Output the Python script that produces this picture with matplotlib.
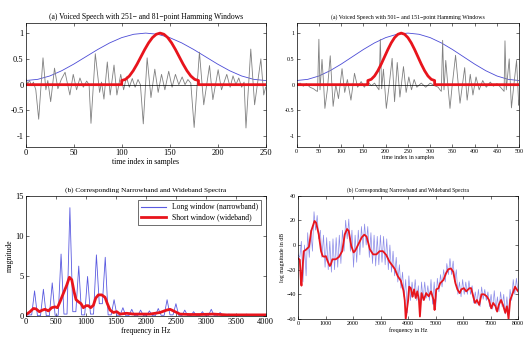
import numpy as np
import matplotlib
matplotlib.use("Agg")
import matplotlib.pyplot as plt

plt.rcParams['font.family'] = ['Liberation Serif', 'DejaVu Serif']

# Hamming window shape read at 21 evenly spaced points across its length
hamm = [0.08, 0.103, 0.168, 0.270, 0.398, 0.540, 0.682, 0.810, 0.912, 0.977, 1.0,
        0.977, 0.912, 0.810, 0.682, 0.540, 0.398, 0.270, 0.168, 0.103, 0.08]

# (first sample, last sample) of each window
win_long_a = (0, 250)
win_short_a = (100, 180)
win_long_b = (0, 500)
win_short_b = (160, 310)

# voiced speech, 8 kHz (sample index, value)
wave_a_t = [0, 2, 4, 6, 8, 10.5, 13.5, 18, 21, 23, 26, 30, 33.5, 37, 41, 46, 49.5, 53, 56.5, 60,
            63.5, 66, 68, 72.5, 77, 79, 81.5, 85, 88, 92, 95, 99, 102, 105, 108, 111, 114, 117,
            119.5, 122.5, 126.5, 130.5, 134.5, 138, 141.5, 145, 149, 152.5, 156, 159.5, 163, 166,
            169, 172, 175.5, 181, 185.5, 191.5, 195, 200.5, 204, 209.5, 213, 216, 219, 222, 225,
            227.5, 229.5, 234.5, 238.5, 245, 248, 250]
wave_a_v = [0.12, 0.02, 0.08, -0.02, 0.05, -0.1, -0.67, 0.52, -0.1, 0.08, -0.33, 0.32, -0.08, 0.1,
            0.24, -0.2, 0.2, -0.1, 0.13, -0.05, 0.07, 0.0, -0.75, 0.6, -0.15, 0.05, -0.28, 0.44,
            -0.2, 0.38, -0.2, 0.2, -0.1, 0.15, -0.05, 0.12, -0.05, 0.1, 0.0, -0.76, 0.52, -0.25,
            0.3, -0.15, 0.2, -0.1, 0.26, -0.05, 0.2, 0.0, 0.15, 0.0, 0.1, 0.03, -0.83, 0.63, -0.39,
            0.37, -0.29, 0.29, -0.1, 0.2, -0.05, 0.17, 0.0, 0.13, -0.05, 0.05, -0.84, 0.69, -0.39,
            0.5, -0.2, -0.05]

# voiced speech, 16 kHz
wave_b_t = [0, 8, 15, 22, 30, 38, 44, 47, 50, 52.5, 57, 60, 63.5, 69, 75.5, 82, 88, 94, 102, 108,
            114, 122, 130, 137, 145, 152, 160, 168, 175, 181, 185, 188, 191, 195, 201.5, 208, 214.5,
            220, 226, 232, 240, 246, 252, 258, 264, 270, 280, 290, 300, 310, 318, 322, 325, 328,
            331, 335, 339, 344.5, 349, 357, 367, 377.5, 383, 390, 396, 403, 410, 418, 426, 435,
            442, 450, 458, 463, 466, 468, 471, 477.5, 482.5, 488, 494, 499, 500]
wave_b_v = [0.0, 0.03, -0.03, 0.02, -0.05, -0.08, -0.12, -0.13, 0.88, -0.1, 0.49, 0.1, -0.46, -0.1,
            0.56, -0.42, 0.0, -0.27, 0.31, -0.15, 0.1, -0.3, 0.22, -0.05, 0.06, -0.05, 0.05, -0.02,
            0.03, -0.05, -0.1, 0.88, -0.08, 0.3, -0.46, 0.0, 0.51, -0.33, 0.43, -0.24, 0.35, -0.15,
            0.15, -0.1, 0.1, -0.05, 0.03, -0.05, 0.03, -0.02, -0.05, -0.1, -0.13, 0.86, -0.1, 0.47,
            0.05, -0.46, -0.05, 0.57, -0.36, 0.33, -0.3, 0.2, -0.2, 0.15, -0.1, 0.08, -0.05, 0.05,
            -0.03, 0.02, -0.05, -0.1, -0.13, 0.85, -0.1, 0.5, -0.45, 0.0, 0.47, -0.4, -0.3]

# narrowband spectrum (a): harmonic peaks of f0_a and floor between them
f0_a = 147.3
nb_peak_a = [3.1, 3.3, 4.1, 7.7, 13.5, 6.2, 4.9, 7.6, 7.3, 2.0, 1.0, 0.8, 0.7, 0.6, 0.9, 2.0, 1.5,
             0.7, 0.5, 0.5, 0.8, 0.4, 0.2, 0.15, 0.2, 0.1]
nb_floor_a = [0.1, 0.0, 0.0, 0.05, 0.2, 0.5, 0.1, 0.2, 1.5, 0.1, 0.05, 0.0, 0.0, 0.0, 0.0, 0.05,
              0.1, 0.0, 0.0, 0.0, 0.0, 0.0, 0.0, 0.0, 0.0, 0.0, 0.0]
lobe_half = 48

# wideband spectrum (a)
wb_a_f = [0, 72, 128, 172, 228, 278, 322, 378, 433, 489, 528, 572, 628, 683, 728, 767, 806, 839,
          878, 922, 961, 1006, 1044, 1083, 1128, 1167, 1211, 1267, 1322, 1361, 1406, 1461, 1517,
          1572, 1683, 1794, 2072, 2239, 2350, 2406, 2489, 2572, 2739, 2906, 3128, 3350, 4000]
wb_a_v = [0.1, 0.5, 0.9, 0.85, 0.5, 0.7, 0.8, 0.6, 1.0, 1.1, 1.0, 1.75, 2.8, 3.8, 4.8, 4.5, 3.0,
          2.0, 1.75, 1.5, 1.0, 1.25, 1.25, 1.0, 1.3, 2.2, 2.6, 2.6, 2.3, 1.5, 0.7, 0.4, 0.5, 0.2,
          0.3, 0.2, 0.2, 0.4, 0.7, 0.8, 0.5, 0.2, 0.15, 0.15, 0.2, 0.1, 0.1]

# narrowband log spectrum (b): harmonic peaks and troughs in dB
f0_b = 115
nb_start_b = -8
nb_peak_b = [3, 0, 10, 12, 27, 24, 12, 8, 6, 3,
             5, 6, 8, 12, 20, 21, 12, 8, 12, 15,
             17, 15, 10, 8, 7, 8, 7, 5, 0, -5,
             -10, -16, -22, -28, -25, -30, -28, -33, -30, -30,
             -33, -28, -30, -27, -24, -20, -15, -11, -13, -20,
             -30, -28, -30, -29, -33, -38, -36, -34, -36, -38,
             -40, -37, -42, -38, -40, -42, -36, -28, -27]
nb_trough_b = [-10, -30, -25, -10, -5, 12, 5, -10, -18, -20,
               -22, -20, -18, -15, -5, 5, -5, -18, -14, -8,
               -2, 0, -10, -15, -17, -16, -14, -16, -20, -22,
               -25, -30, -35, -42, -55, -45, -42, -45, -55, -45,
               -43, -45, -48, -50, -38, -34, -30, -24, -24, -30,
               -40, -42, -40, -40, -40, -47, -48, -50, -44, -45,
               -50, -52, -53, -54, -50, -56, -58, -45, -40, -38]

# wideband log spectrum (b)
wb_b_f = [0, 59, 95, 119, 154, 202, 273, 391, 474, 593, 652, 747, 830, 889, 948, 1007, 1067, 1150,
          1185, 1244, 1363, 1481, 1600, 1694, 1778, 1837, 1931, 2014, 2074, 2192, 2311, 2405, 2488,
          2607, 2725, 2844, 2962, 3081, 3199, 3318, 3436, 3519, 3614, 3733, 3828, 3875, 3910, 4000,
          4036, 4095, 4154, 4214, 4273, 4332, 4391, 4427, 4486, 4569, 4652, 4747, 4830, 4924, 4960,
          5020, 5102, 5162, 5280, 5375, 5458, 5553, 5635, 5718, 5790, 5873, 5932, 6026, 6110, 6228,
          6288, 6346, 6430, 6500, 6583, 6666, 6760, 6855, 6938, 7021, 7092, 7176, 7235, 7294, 7377,
          7448, 7531, 7590, 7650, 7709, 7804, 7887, 7946, 8000]
wb_b_db = [-10.8, -12, -28, -33, -20, -5, -4, -1.5, 11.4, 19.5, 18, 8.6, -4.9, -9, -9.5, -9, -13,
           -17, -15.7, -11.6, -11.6, -9.7, -5, 8.6, 13, 11.4, -0.8, -6, -4.6, 0.8, 6.2, 8.4, 6.8,
           -3.5, -7.6, -7.6, -5, -5, -8, -13.5, -17, -19.7, -25, -29, -37, -45, -60, -44.6, -33.8,
           -35, -42, -36, -43, -37.6, -44.6, -58, -39, -44.6, -39, -41.6, -37.6, -44.6, -52.7, -36,
           -35, -31, -28.4, -23, -19.7, -19, -21.6, -31, -36, -39, -36, -35, -37.6, -35, -35, -40,
           -47, -44.6, -48.6, -40, -40, -41.6, -44.6, -51.4, -47, -49.7, -54, -48.6, -44.6, -48.6,
           -55, -49.7, -60, -44.6, -39, -33.8, -36, -37.6]

BLUE = '#4b4bd6'
RED = '#e8141c'
GRAY = '#808080'


def style(ax, fs):
    ax.tick_params(direction='in', top=True, right=True, length=2.5, width=0.4,
                   labelsize=fs, pad=1.5)
    for s in ax.spines.values():
        s.set_linewidth(0.5)


def window_xy(win):
    return np.linspace(win[0], win[1], len(hamm)), hamm


def short_window_xy(win, xmax):
    wx, wy = window_xy(win)
    return [0, win[0]] + list(wx) + [win[1], xmax], [0, 0] + list(wy) + [0, 0]


def plot_wave(ax, t, v, wlong, wshort, xmax, title, fs_tick, fs_text):
    lx, ly = window_xy(wlong)
    ax.plot(lx, ly, color=BLUE, lw=0.6)
    ax.plot(t, v, color=GRAY, lw=0.6)
    ax.axhline(0, color='k', lw=0.5)
    sx, sy = short_window_xy(wshort, xmax)
    ax.plot(sx, sy, color=RED, lw=2.0, solid_joinstyle='round')
    ax.set_xlim(0, xmax)
    ax.set_ylim(-1.2, 1.2)
    ax.set_yticks([-1, -0.5, 0, 0.5, 1])
    ax.set_yticklabels(['-1', '-0.5', '0', '0.5', '1'])
    ax.set_xticks(np.arange(0, xmax + 1, 50))
    ax.set_title(title, fontsize=fs_text, pad=3)
    ax.set_xlabel('time index in samples', fontsize=fs_text, labelpad=1)
    style(ax, fs_tick)


fig = plt.figure(figsize=(5.25, 3.4), dpi=100)

ax1 = fig.add_axes([0.049, 0.569, 0.457, 0.364])
plot_wave(ax1, wave_a_t, wave_a_v, win_long_a, win_short_a, 250,
          '(a) Voiced Speech with 251\u2212 and 81\u2212point Hamming Windows', 6, 5.5)

ax2 = fig.add_axes([0.565, 0.569, 0.424, 0.364])
plot_wave(ax2, wave_b_t, wave_b_v, win_long_b, win_short_b, 500,
          '(a) Voiced Speech with 501\u2212 and 151\u2212point Hamming Windows', 4.3, 4.2)

# narrowband (a) drawn as lobes at each harmonic
nbx, nby = [0], [nb_floor_a[0]]
for k, h in enumerate(nb_peak_a, start=1):
    f = k * f0_a
    nbx += [f - lobe_half, f, f + lobe_half]
    nby += [nb_floor_a[k - 1], h, nb_floor_a[k]]
nbx.append(4000)
nby.append(nb_floor_a[-1])

ax3 = fig.add_axes([0.049, 0.0715, 0.457, 0.353])
ax3.plot(nbx, nby, color='#5a5ae0', lw=0.6, label='Long window (narrowband)')
ax3.plot(wb_a_f, wb_a_v, color=RED, lw=2.0, label='Short window (wideband)')
ax3.set_xlim(0, 4000)
ax3.set_ylim(0, 15)
ax3.set_xticks(np.arange(0, 4001, 500))
ax3.set_yticks([0, 5, 10, 15])
ax3.set_title('(b) Corresponding Narrowband and Wideband Spectra', fontsize=5.3, pad=3)
ax3.set_xlabel('frequency in Hz', fontsize=5.5, labelpad=1)
ax3.set_ylabel('magnitude', fontsize=5.5, labelpad=1)
leg = ax3.legend(loc='upper right', fontsize=5.5, fancybox=False, edgecolor='k',
                 borderaxespad=0.6, handlelength=3.2, labelspacing=0.3, borderpad=0.4)
leg.get_frame().set_linewidth(0.5)
leg.get_lines()[0].set_linewidth(0.8)
style(ax3, 6)

# narrowband (b) log spectrum
lbx, lby = [0], [nb_start_b]
for k in range(len(nb_trough_b)):
    if k > 0:
        lbx.append(k * f0_b)
        lby.append(nb_peak_b[k - 1])
    lbx.append((k + 0.5) * f0_b)
    lby.append(nb_trough_b[k])

ax4 = fig.add_axes([0.568, 0.0618, 0.419, 0.3626])
ax4.plot(lbx, lby, color='#8c8ce8', lw=0.5)
ax4.plot(wb_b_f, wb_b_db, color=RED, lw=1.3)
ax4.set_xlim(0, 8000)
ax4.set_ylim(-60, 40)
ax4.set_xticks(np.arange(0, 8001, 1000))
ax4.set_yticks([-60, -40, -20, 0, 20, 40])
ax4.set_title('(b) Corresponding Narrowband and Wideband Spectra', fontsize=4.0, pad=3)
ax4.set_xlabel('frequency in Hz', fontsize=4.2, labelpad=1)
ax4.set_ylabel('log magnitude in dB', fontsize=4.2, labelpad=1)
style(ax4, 4.3)

fig.savefig('out.png', dpi=100)
